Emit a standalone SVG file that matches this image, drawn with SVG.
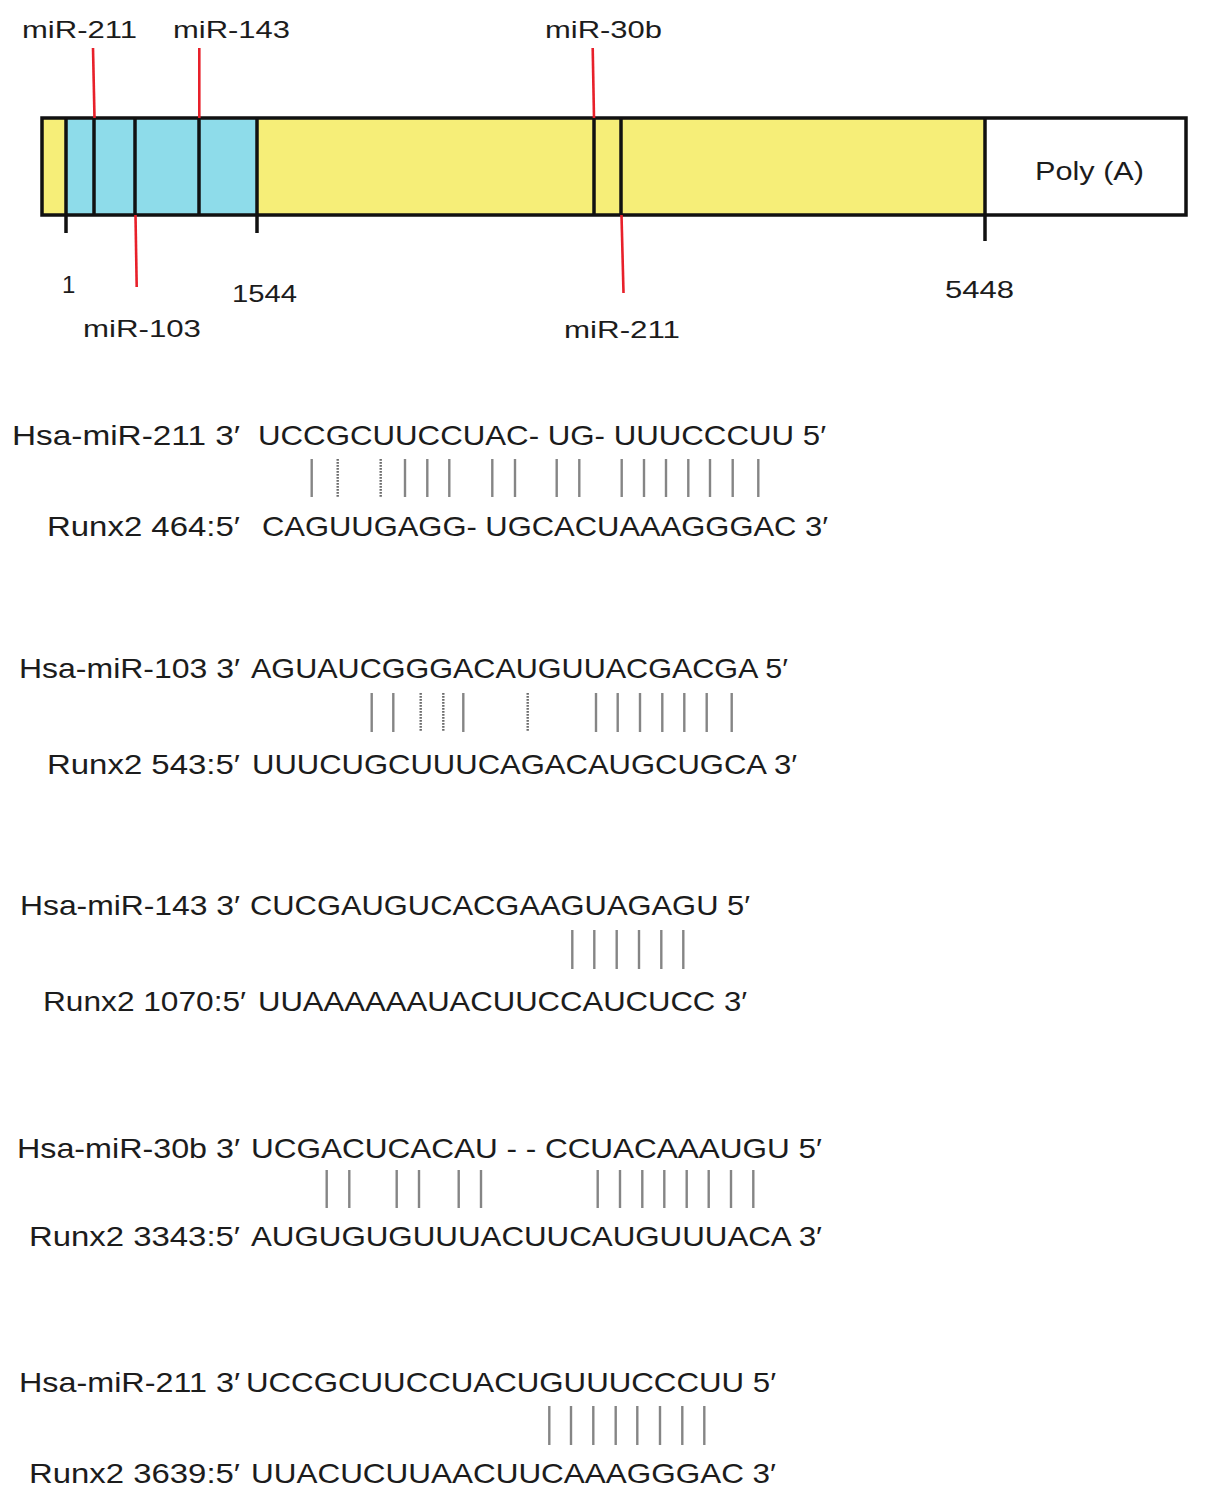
<svg xmlns="http://www.w3.org/2000/svg" width="1205" height="1499" viewBox="0 0 1205 1499">
<style>
text{font-family:"Liberation Sans",Arial,sans-serif;fill:#1c1c1c}
.lab{font-size:24px}
.seq{font-size:28px}
.div{stroke:#111;stroke-width:3.5;fill:none}
.red{stroke:#e8202a;stroke-width:2.6;fill:none}
.pair{stroke:#858585;stroke-width:2.4}
.dot{stroke:#6a6a6a;stroke-width:2.4;stroke-dasharray:1.8 1.2}
</style>
<rect width="1205" height="1499" fill="#fff"/>
<g id="transcript">
<rect x="42" y="118" width="1144" height="97" fill="#f6ee78"/>
<rect x="66" y="118" width="191" height="97" fill="#8edcea"/>
<rect x="985" y="118" width="201" height="97" fill="#fff"/>
<line class="div" x1="66" y1="118" x2="66" y2="233"/>
<line class="div" x1="94" y1="118" x2="94" y2="215"/>
<line class="div" x1="135" y1="118" x2="135" y2="215"/>
<line class="div" x1="199" y1="118" x2="199" y2="215"/>
<line class="div" x1="257" y1="118" x2="257" y2="233"/>
<line class="div" x1="594" y1="118" x2="594" y2="215"/>
<line class="div" x1="621" y1="118" x2="621" y2="215"/>
<line class="div" x1="985" y1="118" x2="985" y2="241"/>
<rect x="42" y="118" width="1144" height="97" class="div"/>
<text class="lab" x="1035" y="180" textLength="109" lengthAdjust="spacingAndGlyphs" style="font-size:26px">Poly (A)</text>
<text class="lab" x="62" y="293">1</text>
<text class="lab" x="232" y="302" textLength="65" lengthAdjust="spacingAndGlyphs">1544</text>
<text class="lab" x="945" y="298" textLength="69" lengthAdjust="spacingAndGlyphs">5448</text>
</g>
<g id="sites">
<line class="red" x1="93" y1="48" x2="94.5" y2="118"/>
<line class="red" x1="199.3" y1="48" x2="199.3" y2="118"/>
<line class="red" x1="135.5" y1="215" x2="136.7" y2="287"/>
<line class="red" x1="592.7" y1="48" x2="594" y2="118"/>
<line class="red" x1="621.5" y1="215" x2="623.5" y2="293"/>
<text class="lab" x="22" y="38" textLength="115" lengthAdjust="spacingAndGlyphs">miR-211</text>
<text class="lab" x="173" y="38" textLength="117" lengthAdjust="spacingAndGlyphs">miR-143</text>
<text class="lab" x="545" y="38" textLength="117" lengthAdjust="spacingAndGlyphs">miR-30b</text>
<text class="lab" x="83" y="337" textLength="118" lengthAdjust="spacingAndGlyphs">miR-103</text>
<text class="lab" x="564" y="338" textLength="116" lengthAdjust="spacingAndGlyphs">miR-211</text>
</g>
<g id="align-miR-211-464">
<text class="seq" x="12" y="445" textLength="228" lengthAdjust="spacingAndGlyphs">Hsa-miR-211 3′</text>
<text class="seq" x="258" y="445" textLength="568" lengthAdjust="spacingAndGlyphs">UCCGCUUCCUAC- UG- UUUCCCUU 5′</text>
<text class="seq" x="47" y="536" textLength="193" lengthAdjust="spacingAndGlyphs">Runx2 464:5′</text>
<text class="seq" x="262" y="536" textLength="566" lengthAdjust="spacingAndGlyphs">CAGUUGAGG- UGCACUAAAGGGAC 3′</text>
</g>
<g id="align-miR-103-543">
<text class="seq" x="19" y="678" textLength="221" lengthAdjust="spacingAndGlyphs">Hsa-miR-103 3′</text>
<text class="seq" x="251" y="678" textLength="537" lengthAdjust="spacingAndGlyphs">AGUAUCGGGACAUGUUACGACGA 5′</text>
<text class="seq" x="47" y="774" textLength="193" lengthAdjust="spacingAndGlyphs">Runx2 543:5′</text>
<text class="seq" x="252" y="774" textLength="545" lengthAdjust="spacingAndGlyphs">UUUCUGCUUUCAGACAUGCUGCA 3′</text>
</g>
<g id="align-miR-143-1070">
<text class="seq" x="20" y="915" textLength="220" lengthAdjust="spacingAndGlyphs">Hsa-miR-143 3′</text>
<text class="seq" x="250" y="915" textLength="500" lengthAdjust="spacingAndGlyphs">CUCGAUGUCACGAAGUAGAGU 5′</text>
<text class="seq" x="43" y="1011" textLength="203" lengthAdjust="spacingAndGlyphs">Runx2 1070:5′</text>
<text class="seq" x="258" y="1011" textLength="489" lengthAdjust="spacingAndGlyphs">UUAAAAAAUACUUCCAUCUCC 3′</text>
</g>
<g id="align-miR-30b-3343">
<text class="seq" x="17" y="1158" textLength="223" lengthAdjust="spacingAndGlyphs">Hsa-miR-30b 3′</text>
<text class="seq" x="251" y="1158" textLength="571" lengthAdjust="spacingAndGlyphs">UCGACUCACAU - - CCUACAAAUGU 5′</text>
<text class="seq" x="29" y="1246" textLength="211" lengthAdjust="spacingAndGlyphs">Runx2 3343:5′</text>
<text class="seq" x="251" y="1246" textLength="571" lengthAdjust="spacingAndGlyphs">AUGUGUGUUUACUUCAUGUUUACA 3′</text>
</g>
<g id="align-miR-211-3639">
<text class="seq" x="19" y="1392" textLength="221" lengthAdjust="spacingAndGlyphs">Hsa-miR-211 3′</text>
<text class="seq" x="246" y="1392" textLength="530" lengthAdjust="spacingAndGlyphs">UCCGCUUCCUACUGUUUCCCUU 5′</text>
<text class="seq" x="29" y="1483" textLength="211" lengthAdjust="spacingAndGlyphs">Runx2 3639:5′</text>
<text class="seq" x="251" y="1483" textLength="525" lengthAdjust="spacingAndGlyphs">UUACUCUUAACUUCAAAGGGAC 3′</text>
</g>
<g id="connectors">
<g id="pairs-1">
<line class="pair" x1="311.7" y1="459" x2="311.7" y2="497"/>
<line class="dot" x1="337.7" y1="459" x2="337.7" y2="497"/>
<line class="dot" x1="380.7" y1="459" x2="380.7" y2="497"/>
<line class="pair" x1="405" y1="459" x2="405" y2="497"/>
<line class="pair" x1="427.3" y1="459" x2="427.3" y2="497"/>
<line class="pair" x1="449.3" y1="459" x2="449.3" y2="497"/>
<line class="pair" x1="492.3" y1="459" x2="492.3" y2="497"/>
<line class="pair" x1="515" y1="459" x2="515" y2="497"/>
<line class="pair" x1="556.7" y1="459" x2="556.7" y2="497"/>
<line class="pair" x1="579.3" y1="459" x2="579.3" y2="497"/>
<line class="pair" x1="621.7" y1="459" x2="621.7" y2="497"/>
<line class="pair" x1="644" y1="459" x2="644" y2="497"/>
<line class="pair" x1="666" y1="459" x2="666" y2="497"/>
<line class="pair" x1="688.3" y1="459" x2="688.3" y2="497"/>
<line class="pair" x1="710" y1="459" x2="710" y2="497"/>
<line class="pair" x1="732.7" y1="459" x2="732.7" y2="497"/>
<line class="pair" x1="758.3" y1="459" x2="758.3" y2="497"/>
</g>
<g id="pairs-2">
<line class="pair" x1="371.7" y1="693" x2="371.7" y2="732"/>
<line class="pair" x1="393.3" y1="693" x2="393.3" y2="732"/>
<line class="dot" x1="420.7" y1="693" x2="420.7" y2="732"/>
<line class="dot" x1="443.3" y1="693" x2="443.3" y2="732"/>
<line class="pair" x1="463.3" y1="693" x2="463.3" y2="732"/>
<line class="dot" x1="527.7" y1="693" x2="527.7" y2="732"/>
<line class="pair" x1="596" y1="693" x2="596" y2="732"/>
<line class="pair" x1="617.7" y1="693" x2="617.7" y2="732"/>
<line class="pair" x1="640" y1="693" x2="640" y2="732"/>
<line class="pair" x1="662.3" y1="693" x2="662.3" y2="732"/>
<line class="pair" x1="684.3" y1="693" x2="684.3" y2="732"/>
<line class="pair" x1="706.7" y1="693" x2="706.7" y2="732"/>
<line class="pair" x1="731.7" y1="693" x2="731.7" y2="732"/>
</g>
<g id="pairs-3">
<line class="pair" x1="572.3" y1="930" x2="572.3" y2="969"/>
<line class="pair" x1="594.3" y1="930" x2="594.3" y2="969"/>
<line class="pair" x1="616.7" y1="930" x2="616.7" y2="969"/>
<line class="pair" x1="639" y1="930" x2="639" y2="969"/>
<line class="pair" x1="661.3" y1="930" x2="661.3" y2="969"/>
<line class="pair" x1="683.3" y1="930" x2="683.3" y2="969"/>
</g>
<g id="pairs-4">
<line class="pair" x1="326.7" y1="1170" x2="326.7" y2="1208"/>
<line class="pair" x1="349.3" y1="1170" x2="349.3" y2="1208"/>
<line class="pair" x1="396.7" y1="1170" x2="396.7" y2="1208"/>
<line class="pair" x1="419" y1="1170" x2="419" y2="1208"/>
<line class="pair" x1="458.7" y1="1170" x2="458.7" y2="1208"/>
<line class="pair" x1="481" y1="1170" x2="481" y2="1208"/>
<line class="pair" x1="597.7" y1="1170" x2="597.7" y2="1208"/>
<line class="pair" x1="620" y1="1170" x2="620" y2="1208"/>
<line class="pair" x1="642.3" y1="1170" x2="642.3" y2="1208"/>
<line class="pair" x1="664.3" y1="1170" x2="664.3" y2="1208"/>
<line class="pair" x1="686.7" y1="1170" x2="686.7" y2="1208"/>
<line class="pair" x1="708.7" y1="1170" x2="708.7" y2="1208"/>
<line class="pair" x1="731" y1="1170" x2="731" y2="1208"/>
<line class="pair" x1="753.3" y1="1170" x2="753.3" y2="1208"/>
</g>
<g id="pairs-5">
<line class="pair" x1="549.3" y1="1406" x2="549.3" y2="1445"/>
<line class="pair" x1="571" y1="1406" x2="571" y2="1445"/>
<line class="pair" x1="593.3" y1="1406" x2="593.3" y2="1445"/>
<line class="pair" x1="615.7" y1="1406" x2="615.7" y2="1445"/>
<line class="pair" x1="637.3" y1="1406" x2="637.3" y2="1445"/>
<line class="pair" x1="660" y1="1406" x2="660" y2="1445"/>
<line class="pair" x1="682.3" y1="1406" x2="682.3" y2="1445"/>
<line class="pair" x1="704.3" y1="1406" x2="704.3" y2="1445"/>
</g>
</g>
</svg>
